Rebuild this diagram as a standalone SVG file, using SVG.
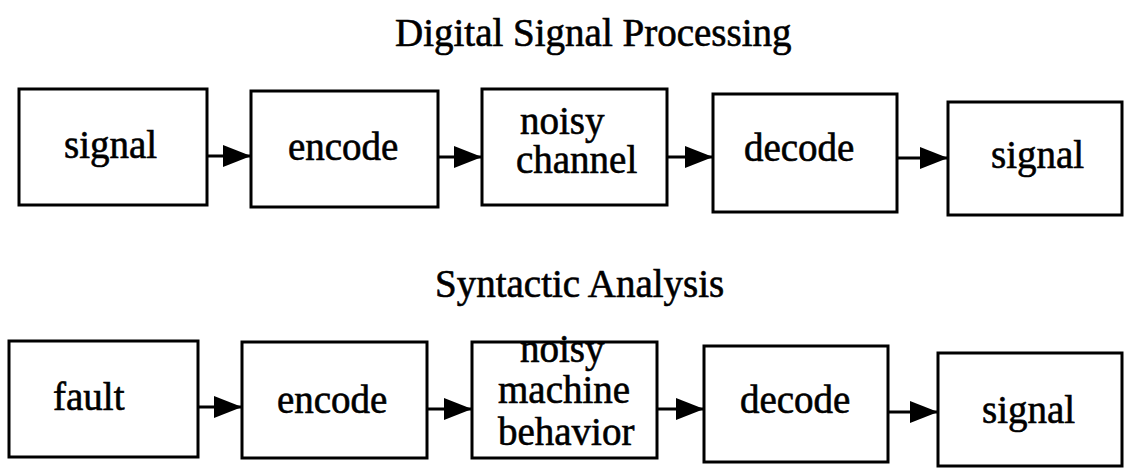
<svg xmlns="http://www.w3.org/2000/svg" width="1124" height="468" viewBox="0 0 1124 468">
<style>
.box{fill:#fff;stroke:#000;stroke-width:3}
.t{font-family:"Liberation Serif","Times New Roman",serif;font-size:39px;fill:#000;stroke:#000;stroke-width:0.6}
.c{stroke:#000;stroke-width:3;fill:none}
</style>
<defs>
<marker id="ah" markerUnits="userSpaceOnUse" markerWidth="30" markerHeight="22" refX="28" refY="11" orient="auto">
<path d="M0,0 L28,11 L0,22 Z" fill="#000"/>
</marker>
</defs>
<rect width="1124" height="468" fill="#fff"/>
<text class="t" x="395" y="46">Digital Signal Processing</text>
<text class="t" x="435" y="297">Syntactic Analysis</text>

<g id="n1"><rect class="box" x="19" y="89" width="188" height="116"/><text class="t" x="64" y="158">signal</text></g>
<g id="n2"><rect class="box" x="251" y="91" width="187" height="116"/><text class="t" x="288" y="160">encode</text></g>
<g id="n3"><rect class="box" x="482" y="89" width="185" height="116"/><text class="t" x="520" y="134">noisy</text><text class="t" x="516" y="173">channel</text></g>
<g id="n4"><rect class="box" x="713" y="94" width="184" height="118"/><text class="t" x="744" y="161">decode</text></g>
<g id="n5"><rect class="box" x="948" y="102" width="174" height="113"/><text class="t" x="991" y="168">signal</text></g>

<g id="m1"><rect class="box" x="9" y="341" width="189" height="116"/><text class="t" x="53" y="410">fault</text></g>
<g id="m2"><rect class="box" x="242" y="342" width="185" height="116"/><text class="t" x="277" y="413">encode</text></g>
<g id="m3"><rect class="box" x="472" y="342" width="185" height="116"/><text class="t" x="520" y="362">noisy</text><text class="t" x="498" y="403">machine</text><text class="t" x="498" y="445">behavior</text></g>
<g id="m4"><rect class="box" x="704" y="346" width="184" height="116"/><text class="t" x="740" y="413">decode</text></g>
<g id="m5"><rect class="box" x="938" y="353" width="184" height="113"/><text class="t" x="982" y="423">signal</text></g>

<g id="connectors">
<line class="c" x1="207" y1="156" x2="251" y2="156" marker-end="url(#ah)"/>
<line class="c" x1="438" y1="157" x2="482" y2="157" marker-end="url(#ah)"/>
<line class="c" x1="667" y1="157" x2="713" y2="157" marker-end="url(#ah)"/>
<line class="c" x1="897" y1="158" x2="948" y2="158" marker-end="url(#ah)"/>
<line class="c" x1="198" y1="407" x2="242" y2="407" marker-end="url(#ah)"/>
<line class="c" x1="427" y1="409" x2="472" y2="409" marker-end="url(#ah)"/>
<line class="c" x1="657" y1="409" x2="704" y2="409" marker-end="url(#ah)"/>
<line class="c" x1="888" y1="412" x2="938" y2="412" marker-end="url(#ah)"/>
</g>
</svg>
